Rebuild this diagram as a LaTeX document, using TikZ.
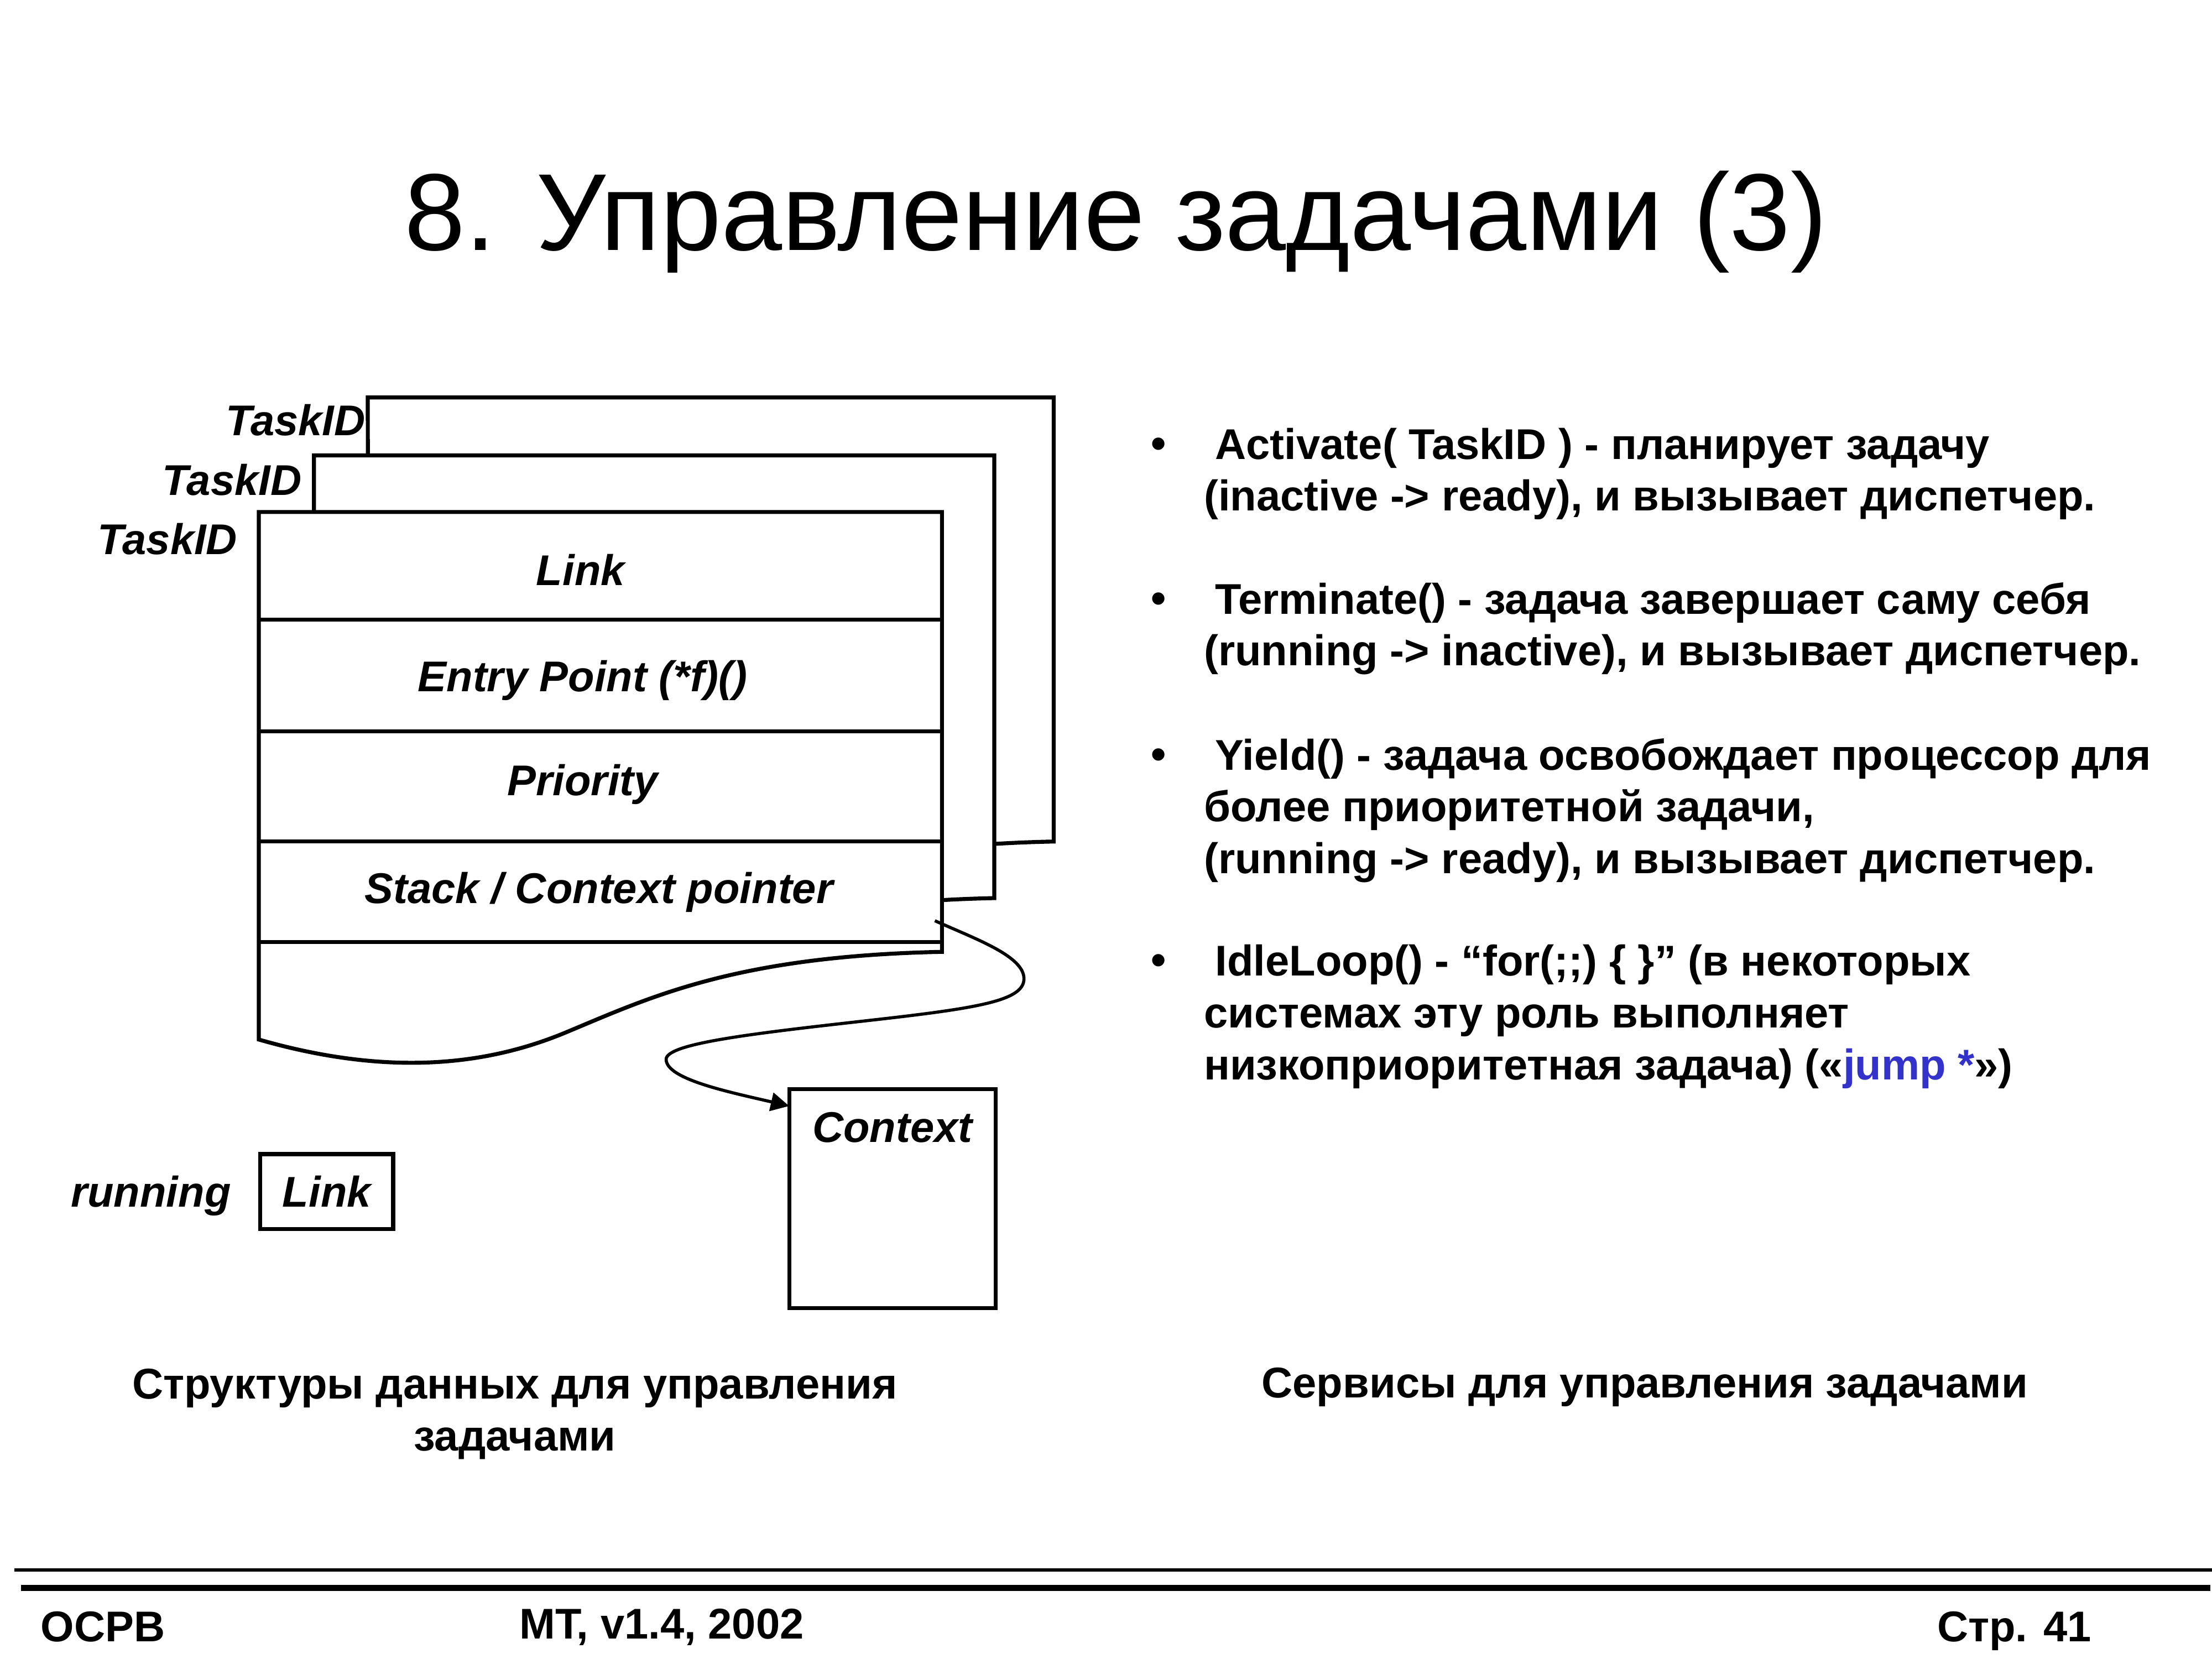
\documentclass[tikz,border=0pt]{standalone}
\usepackage{fontspec}
\setmainfont{Liberation Sans}
\usetikzlibrary{arrows.meta}
\definecolor{jumpblue}{RGB}{51,51,204}
\tikzset{every picture/.style={line width=0.75pt}}
\tikzset{
  framebox/.style={draw, line width=1.4pt, fill=white, outer sep=0pt},
  fieldlbl/.style={inner sep=0pt, font=\bfseries\itshape\fontsize{15.2}{18}\selectfont},
  bodytxt/.style={inner sep=0pt, align=left, font=\bfseries\fontsize{15.2}{18.3}\selectfont},
}

\begin{document}
\begin{tikzpicture}[x=0.5pt,y=0.5pt,yscale=-1,xscale=1]
\fill[white] (0,0) rectangle (1564,1173);
\useasboundingbox (0,0) rectangle (1564,1173);

% Title
\node[inner sep=0pt, anchor=base, font=\fontsize{38.7}{44}\selectfont] (title) at (789,177) {8. Управление задачами (3)};

%Shape: Document (back)
\draw [line width=1.4pt, fill=white] (260,281) -- (745,281) -- (745,595) .. controls (599,598) and (539,627) .. (479,652) .. controls (419,677) and (349,682) .. (261,657) -- cycle ;
%Shape: Document (middle)
\draw [line width=1.4pt, fill=white] (222,322) -- (703,322) -- (703,635) .. controls (559,638) and (499,667) .. (439,692) .. controls (379,717) and (309,722) .. (222,697) -- cycle ;
%Shape: Document (front)
\draw [line width=1.4pt, fill=white] (183,362) -- (666,362) -- (666,673) .. controls (520,676) and (460,705) .. (400,730) .. controls (340,755) and (270,760) .. (183,735) -- cycle ;
%Straight Lines (fields)
\draw [line width=1.4pt] (183,438) -- (666,438) ;
\draw [line width=1.4pt] (183,517) -- (666,517) ;
\draw [line width=1.4pt] (183,595) -- (666,595) ;
\draw [line width=1.4pt] (183,666) -- (666,666) ;

% Text Node
\node[fieldlbl, anchor=base east] (tid3) at (259,308) {TaskID};
\node[fieldlbl, anchor=base east] (tid2) at (214,350) {TaskID};
\node[fieldlbl, anchor=base east] (tid1) at (168.5,392) {TaskID};
\node[fieldlbl, anchor=base] (flink) at (410.5,414) {Link};
\node[fieldlbl, anchor=base] (fentry) at (412,489) {Entry Point (*f)()};
\node[fieldlbl, anchor=base] (fprio) at (412,562.5) {Priority};
\node[fieldlbl, anchor=base] (fstack) at (423.5,638.5) {Stack / Context pointer};

% running / Link
\node[fieldlbl, anchor=base east] (running) at (164,853.5) {running};
\node[framebox, fieldlbl, minimum width=47pt, minimum height=26.5pt] (runlink) at (231,842.5) {Link};

% Context
\node[framebox, anchor=north west, minimum width=73pt, minimum height=77.5pt] (ctx) at (558,770) {};
\node[fieldlbl, anchor=base] (ctxlbl) at (631,807.5) {Context};

%Curve Lines (pointer)
\coordinate (ptr) at (661,651);
\draw [line width=1.1pt, -{Triangle[length=6.5pt,width=6.5pt]}] (ptr) .. controls (690,664) and (724,676) .. (724,692) .. controls (724,708) and (690,713) .. (610,722) .. controls (530,731) and (471,738) .. (471,749) .. controls (471,763) and (515,772) .. ([yshift=6pt]ctx.north west) ;

% Bullets
\node[bodytxt, anchor=base west] (bul1) at (813,323.8) {•};
\node[bodytxt, anchor=north west] (activate) at (850.5,298.2) {\strut\hspace*{4pt}Activate( TaskID ) - планирует задачу\\(inactive -> ready), и вызывает диспетчер.};
\node[bodytxt, anchor=base west] (bul2) at (813,433.3) {•};
\node[bodytxt, anchor=north west] (terminate) at (850.5,407.7) {\strut\hspace*{4pt}Terminate() - задача завершает саму себя\\(running -> inactive), и вызывает диспетчер.};
\node[bodytxt, anchor=base west] (bul3) at (813,543.6) {•};
\node[bodytxt, anchor=north west] (yield) at (850.5,518) {\strut\hspace*{4pt}Yield() - задача освобождает процессор для\\более приоритетной задачи,\\(running -> ready), и вызывает диспетчер.};
\node[bodytxt, anchor=base west] (bul4) at (813,689.3) {•};
\node[bodytxt, anchor=north west] (idle) at (850.5,663.7) {\strut\hspace*{4pt}IdleLoop() - “for(;;) \{ \}” (в некоторых\\системах эту роль выполняет\\низкоприоритетная задача) («\textcolor{jumpblue}{jump *}»)};

% Captions
\node[bodytxt, align=center, anchor=north] (capleft) at (364,962.8) {\strut Структуры данных для управления\\задачами};
\node[bodytxt, anchor=base] (capright) at (1163,988.4) {Сервисы для управления задачами};

% Footer
\draw [line width=1.15pt] (10,1110) -- (1564,1110) ;
\draw [line width=2.3pt] (15,1122.7) -- (1563,1122.7) ;
\node[bodytxt, anchor=base west] (fosrv) at (28,1160.7) {ОСРВ};
\node[bodytxt, anchor=base west] (fver) at (366.5,1158.6) {MT, v1.4, 2002};
\node[bodytxt, anchor=base west] (fpage) at (1369,1160.7) {Стр. 41};

\end{tikzpicture}
\end{document}
